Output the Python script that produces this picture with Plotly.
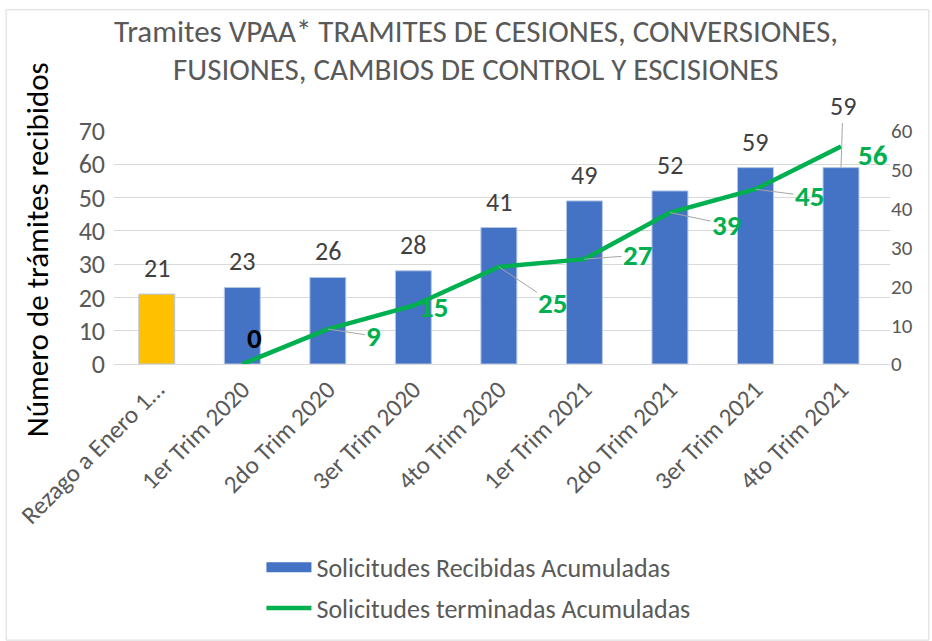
import plotly.graph_objects as go

categories = ["Rezago a Enero 1…", "1er Trim 2020", "2do Trim 2020", "3er Trim 2020",
              "4to Trim 2020", "1er Trim 2021", "2do Trim 2021", "3er Trim 2021", "4to Trim 2021"]
recibidas = [21, 23, 26, 28, 41, 49, 52, 59, 59]
term_categories = categories[1:]
terminadas = [0, 9, 15, 25, 27, 39, 45, 56]

title_lines = ["Tramites VPAA* TRAMITES DE CESIONES, CONVERSIONES,",
               "FUSIONES, CAMBIOS DE CONTROL Y ESCISIONES"]

bar_colors = ["#FFC000"] + ["#4472C4"] * (len(categories) - 1)

FONT = "Carlito, Calibri, Lato, sans-serif"
GRAY = "#595959"

fig = go.Figure()
fig.add_trace(go.Bar(
    x=categories, y=recibidas, name="Solicitudes Recibidas Acumuladas",
    marker=dict(color=bar_colors, line=dict(color="#B4C7E7", width=1)),
    width=0.42, showlegend=False, yaxis="y",
))
# legend proxy for the bars (wide rectangle symbol)
fig.add_trace(go.Scatter(
    x=[None], y=[None], name="Solicitudes Recibidas Acumuladas", mode="lines",
    line=dict(color="#4472C4", width=16), legendgroup="a", yaxis="y",
))
fig.add_trace(go.Scatter(
    x=term_categories, y=terminadas, name="Solicitudes terminadas Acumuladas",
    mode="lines", line=dict(color="#00B050", width=4.5), legendgroup="b", yaxis="y2",
))

annotations = []
# bar value labels
for i, (c, v) in enumerate(zip(categories, recibidas)):
    if i == len(categories) - 1:
        annotations.append(dict(x=c, y=v, xref="x", yref="y", text=str(v),
                                showarrow=True, arrowhead=0, arrowwidth=1, arrowcolor="#A6A6A6",
                                ax=2, ay=-62, font=dict(family=FONT, size=26, color="#404040")))
    else:
        annotations.append(dict(x=c, y=v, xref="x", yref="y", text=str(v), showarrow=False,
                                yshift=26, font=dict(family=FONT, size=26, color="#404040")))

# line value labels (offsets in pixels)
offsets = [(12, -26), (46, 7), (20, 1), (54, 36), (53, -4), (57, 12), (54, 7), (32, 8)]
leader = [False, True, False, True, True, True, True, False]
for i, (c, v) in enumerate(zip(term_categories, terminadas)):
    dx, dy = offsets[i]
    col = "#000000" if v == 0 else "#00B050"
    if leader[i]:
        annotations.append(dict(x=c, y=v, xref="x", yref="y2", text="<b>%d</b>" % v,
                                showarrow=True, arrowhead=0, arrowwidth=1, arrowcolor="#A6A6A6",
                                ax=dx, ay=dy, font=dict(family=FONT, size=29, color=col)))
    else:
        annotations.append(dict(x=c, y=v, xref="x", yref="y2", text="<b>%d</b>" % v,
                                showarrow=False, xshift=dx, yshift=-dy,
                                font=dict(family=FONT, size=29, color=col)))

# y-axis title
annotations.append(dict(x=-0.1, y=0.49, xref="paper", yref="paper", xanchor="center",
                        yanchor="middle", text="Número de trámites recibidos", textangle=-90,
                        showarrow=False, font=dict(family=FONT, size=31, color="#000000")))
# chart title (two lines)
for line_text, py in zip(title_lines, [1.428, 1.268]):
    annotations.append(dict(x=0.466, y=py, xref="paper", yref="paper", xanchor="center",
                            yanchor="middle", text=line_text, showarrow=False,
                            font=dict(family=FONT, size=31, color=GRAY)))

fig.update_layout(
    width=932, height=641,
    margin=dict(l=114, r=42, t=131, b=277),
    paper_bgcolor="white", plot_bgcolor="white",
    xaxis=dict(tickangle=-45, tickfont=dict(family=FONT, size=25, color=GRAY),
               showgrid=False, showline=True, linecolor="#D9D9D9", ticks=""),
    yaxis=dict(range=[0, 70], dtick=10, showgrid=True, gridcolor="#D9D9D9", zeroline=False,
               tickfont=dict(family=FONT, size=26, color=GRAY), ticks="", ticklabelstandoff=8),
    yaxis2=dict(range=[0, 60], dtick=10, overlaying="y", side="right", showgrid=False,
                zeroline=False, tickfont=dict(family=FONT, size=21, color=GRAY), ticks=""),
    legend=dict(xref="paper", yref="container", x=0.19, y=0.1515, xanchor="left",
                yanchor="top", orientation="v",
                font=dict(family=FONT, size=26, color=GRAY), tracegroupgap=4, itemwidth=45,
                bgcolor="rgba(0,0,0,0)"),
    annotations=annotations,
    shapes=[dict(type="rect", xref="paper", yref="paper", x0=-0.139, x1=1.05, y0=-1.185, y1=1.52,
                 line=dict(color="#D9D9D9", width=1), fillcolor="rgba(0,0,0,0)", layer="below")],
    showlegend=True,
)

fig.write_html("out.html", config={"displayModeBar": False},
               post_script="document.body.style.margin='0';")
